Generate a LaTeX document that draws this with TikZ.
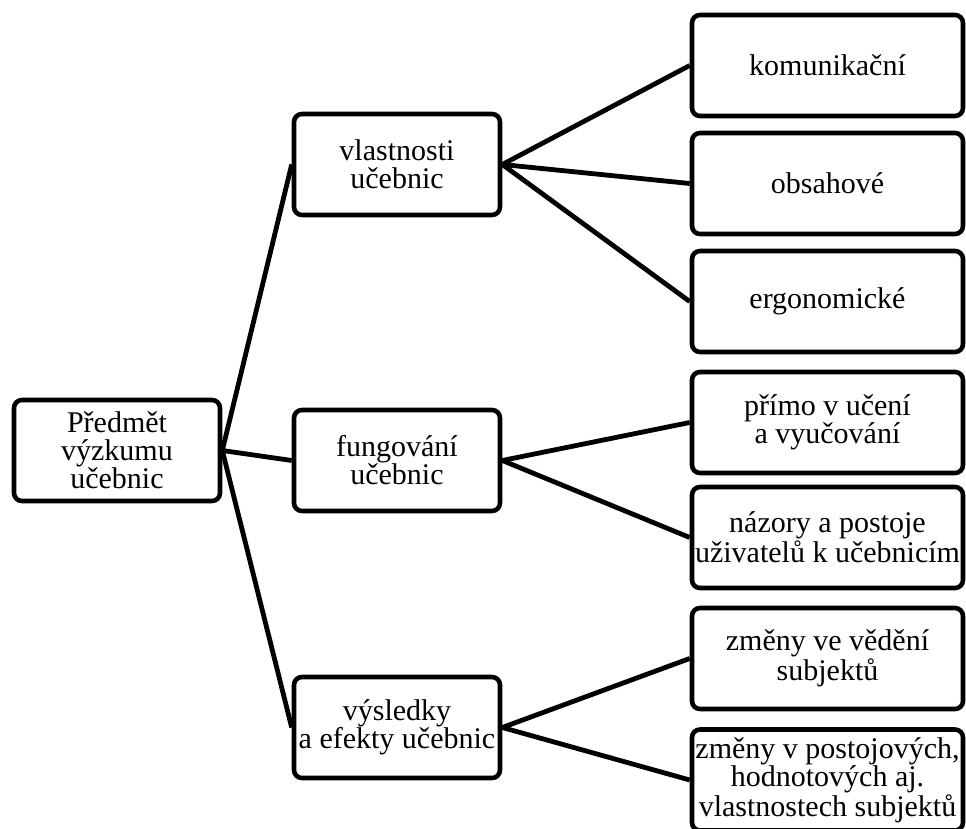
\documentclass[tikz,border=0pt]{standalone}
\usepackage{fontspec}
\setmainfont{Liberation Serif}
\begin{document}
\begin{tikzpicture}[x=0.5pt, y=-0.5pt,
  box/.style={draw, line width=2.3pt, rounded corners=4pt, align=center,
    inner sep=0pt, minimum height=50.5pt, font=\fontsize{15}{14}\selectfont},
  lbox/.style={box, minimum width=103pt},
  rbox/.style={box, minimum width=135.5pt},
  link/.style={line width=2.4pt}]
\useasboundingbox (0,0) rectangle (966,829);
% root and middle level
\node[lbox] (root) at (117,450.5) {Předmět\\výzkumu\\učebnic};
\node[lbox] (vlast) at (397,164.5) {vlastnosti\\učebnic};
\node[lbox] (fung)  at (397,460.5) {fungování\\učebnic};
\node[lbox] (vysl)  at (397,727.5) {výsledky\\a efekty učebnic};
% right level
\node[rbox] (komun) at (827.5,65.5)  {komunikační};
\node[rbox] (obsah) at (827.5,183.5) {obsahové};
\node[rbox] (ergon) at (827.5,301.5) {ergonomické};
\node[rbox] (primo) at (827.5,422.5) {přímo v učení\\a vyučování};
\node[rbox] (nazor) at (827.5,537.5) {názory a postoje\\uživatelů k učebnicím};
\node[rbox] (vedeni) at (827.5,658.5) {změny ve vědění\\subjektů};
\node[rbox] (postoj) at (827.5,780)  {změny v postojových,\\hodnotových aj.\\vlastnostech subjektů};
% connectors
\foreach \m in {vlast,fung,vysl}{
  \draw[link] (root.east) -- (\m.west);
}
\foreach \r in {komun,obsah,ergon}{
  \draw[link] (vlast.east) -- (\r.west);
}
\foreach \r in {primo,nazor}{
  \draw[link] (fung.east) -- (\r.west);
}
\foreach \r in {vedeni,postoj}{
  \draw[link] (vysl.east) -- (\r.west);
}
\end{tikzpicture}
\end{document}
